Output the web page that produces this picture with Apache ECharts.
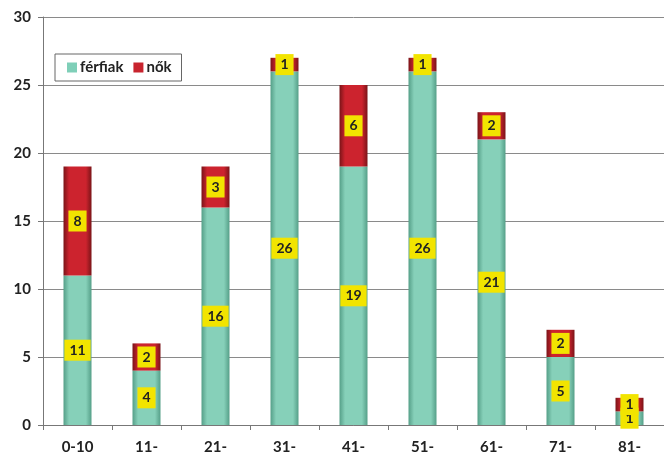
<!DOCTYPE html>
<html>
<head>
<meta charset="utf-8">
<script src="https://cdn.jsdelivr.net/npm/echarts@6/dist/echarts.min.js"></script>
<style>
  html, body { margin: 0; padding: 0; background: #ffffff; }
  #chart { width: 664px; height: 457px; }
</style>
</head>
<body>
<div id="chart"></div>
<script>
// Age groups and counts by sex
const categories = ['0-10', '11-', '21-', '31-', '41-', '51-', '61-', '71-', '81-'];
const ferfiak = [11, 4, 16, 26, 19, 26, 21, 5, 1];
const nok = [8, 2, 3, 1, 6, 1, 2, 2, 1];
const yTicks = [0, 5, 10, 15, 20, 25, 30];

const FONT = 'Lato, "Open Sans", "DejaVu Sans", sans-serif';

// cylinder-like horizontal shading
function shade(edge, mid) {
  return new echarts.graphic.LinearGradient(0, 0, 1, 0, [
    { offset: 0, color: edge },
    { offset: 0.2, color: mid },
    { offset: 0.5, color: mid },
    { offset: 0.8, color: mid },
    { offset: 1, color: edge }
  ]);
}

const valueLabel = {
  show: true,
  position: 'inside',
  backgroundColor: '#f2e400',
  color: '#222',
  fontFamily: FONT,
  fontWeight: 'bold',
  fontSize: 14,
  padding: [4, 5, 3, 5]
};

const chart = echarts.init(document.getElementById('chart'));
chart.setOption({
  animation: false,
  backgroundColor: '#ffffff',
  grid: { left: 43, top: 17, width: 629, height: 408, containLabel: false },
  legend: {
    left: 55,
    top: 54,
    orient: 'horizontal',
    borderColor: '#666',
    borderWidth: 1,
    padding: [6, 10, 6, 12],
    itemGap: 10,
    itemWidth: 10,
    itemHeight: 10,
    icon: 'rect',
    textStyle: { fontFamily: FONT, fontWeight: 'bold', fontSize: 15, color: '#222', padding: [0, 0, 0, -2] },
    data: [
      { name: 'férfiak', itemStyle: { color: '#7fcfb8' } },
      { name: 'nők', itemStyle: { color: '#c8242e' } }
    ]
  },
  xAxis: {
    type: 'category',
    data: categories,
    axisLine: { lineStyle: { color: '#777', width: 1 } },
    axisTick: { show: true, length: 5, lineStyle: { color: '#777' } },
    axisLabel: { fontFamily: FONT, fontWeight: 'bold', fontSize: 15, color: '#222', margin: 15 }
  },
  yAxis: {
    type: 'value',
    min: yTicks[0],
    max: yTicks[yTicks.length - 1],
    interval: 5,
    axisLine: { show: true, lineStyle: { color: '#777', width: 1 } },
    axisTick: { show: true, length: 5, lineStyle: { color: '#777' } },
    splitLine: { lineStyle: { color: '#8a8a8a', width: 1 } },
    axisLabel: { fontFamily: FONT, fontWeight: 'bold', fontSize: 15, color: '#222', margin: 12 }
  },
  series: [
    {
      name: 'férfiak',
      type: 'bar',
      stack: 'total',
      barWidth: 28,
      data: ferfiak,
      itemStyle: { color: shade('#559f88', '#86d0b9') },
      label: valueLabel
    },
    {
      name: 'nők',
      type: 'bar',
      stack: 'total',
      barWidth: 28,
      data: nok,
      itemStyle: { color: shade('#7a1418', '#cc232e') },
      label: valueLabel
    }
  ]
});
</script>
</body>
</html>
